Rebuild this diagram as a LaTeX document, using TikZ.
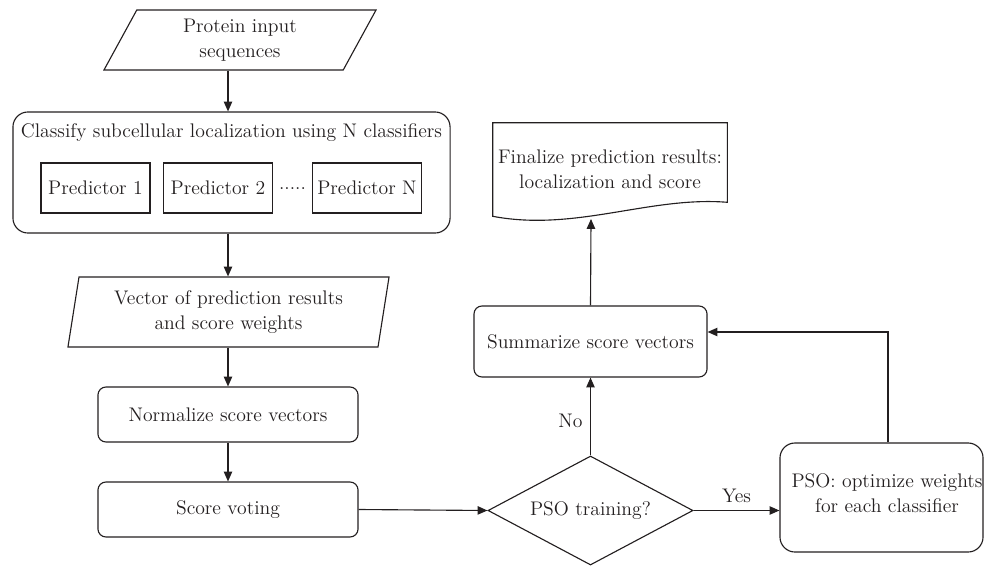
\documentclass[tikz,border=0pt]{standalone}
\usepackage{tikz}
\usetikzlibrary{arrows.meta,positioning,calc,shapes.geometric}

\definecolor{ink}{HTML}{231F20}

\tikzset{
  txt/.style={font=\fontsize{14}{17.5}\selectfont, align=center, text=ink},
  roundbox/.style={txt, draw=ink, line width=0.8pt, rounded corners=0.2cm, inner sep=2pt},
  predbox/.style={txt, draw=ink, line width=0.8pt, minimum width=2.725cm, minimum height=1.25cm, inner sep=1pt},
  iobox/.style={txt, draw=ink, line width=0.8pt, trapezium, trapezium stretches body, inner sep=1pt},
  arr/.style={draw=ink, line width=0.8pt, -{Triangle[length=7pt,width=6pt]}},
}

\begin{document}
\begin{tikzpicture}[x=0.025cm, y=-0.025cm]
    \useasboundingbox (0,0) rectangle (984,565);

    % Input sequences
    \node[iobox, trapezium left angle=53.7, trapezium right angle=126.3,
          minimum width=6.8cm, minimum height=1.5cm] (input) at (240,40) {Protein input\\sequences};

    % Classifier block
    \node[roundbox, rounded corners=0.375cm, minimum width=10.925cm, minimum height=3.025cm] (classify) at (231.5,172.5) {};
    \node[txt, anchor=north] (classtitle) at (231.5,119) {Classify subcellular localization using N classifiers};
    \node[predbox] (pred1) at (95.5,188) {Predictor 1};
    \node[predbox] (pred2) at (218,188) {Predictor 2};
    \node[predbox] (predN) at (367,188) {Predictor N};
    \node[txt] (dots) at (292.5,189) {.....};

    % Vector of results
    \node[iobox, trapezium left angle=76.3, trapezium right angle=103.7,
          minimum width=8.025cm, minimum height=1.75cm] (vector) at (228.5,312) {Vector of prediction results\\and score weights};

    % Normalize and voting
    \node[roundbox, minimum width=6.5cm, minimum height=1.375cm] (norm) at (228,414.5) {Normalize score vectors};
    \node[roundbox, minimum width=6.5cm, minimum height=1.375cm] (vote) at (228,509.5) {Score voting};

    % Decision
    \node[txt, draw=ink, line width=0.8pt, diamond, aspect=1.88, inner sep=0pt,
          minimum width=5.125cm, minimum height=2.725cm] (pso) at (590.5,510.5) {PSO training?};

    % Summarize
    \node[roundbox, minimum width=5.825cm, minimum height=1.775cm] (sum) at (590.5,341.5) {Summarize score vectors};

    % Optimize weights
    \node[roundbox, rounded corners=0.375cm, minimum width=5.075cm, minimum height=2.725cm] (opt) at (881.5,497.5) {};
    \node[txt] (opttext) at (887,493) {PSO: optimize weights\\for each classifier};

    % Final results (document shape)
    \node[txt, minimum width=5.85cm, minimum height=2.325cm] (final) at (610,169.5) {Finalize prediction results:\\localization and score};
    \draw[ink, line width=0.8pt] (final.north west) -- (final.north east) -- ($(final.south east)+(0,-14)$)
        .. controls (650,196) and (575,232) .. (final.south west) -- cycle;
    \coordinate (finb) at (591,219);

    % Connectors
    \draw[arr] (input.south -| norm) -- (classify.north -| norm);
    \draw[arr] (classify.south -| norm) -- (vector.north -| norm);
    \draw[arr] (vector.south -| norm) -- (norm.north);
    \draw[arr] (norm) -- (vote);
    \draw[arr] (vote.east) -- (pso.west);
    \draw[arr] (pso.north) -- node[txt, left=2pt, pos=0.45] {No} (sum.south);
    \draw[arr] (pso.east) -- node[txt, above=2pt] {Yes} (pso.east -| opt.west);
    \coordinate (fb) at (888,332);
    \draw[arr] (opt.north -| fb) -- (fb) -- (sum.east |- fb);
    \draw[arr] (sum.north) -- (finb);
\end{tikzpicture}
\end{document}
